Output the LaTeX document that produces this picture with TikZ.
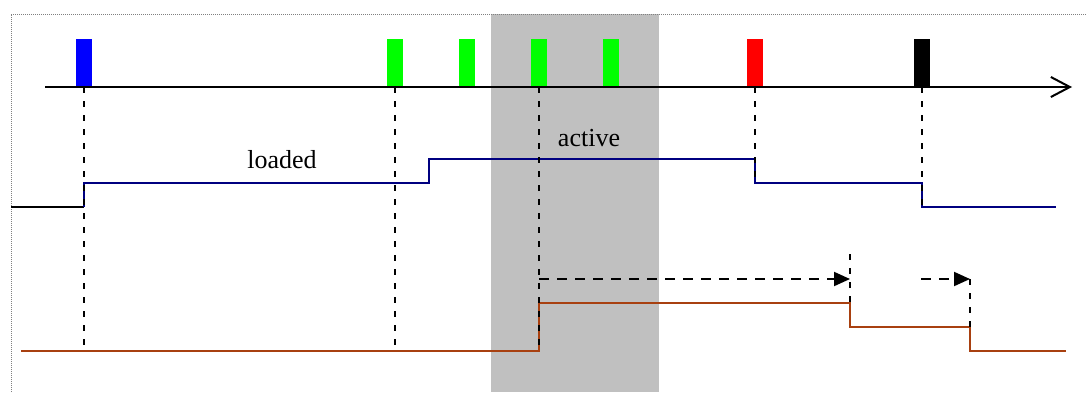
\documentclass[tikz,border=0pt]{standalone}
\usepackage{fontspec}
\setmainfont{Liberation Serif}
\usetikzlibrary{arrows.meta,positioning}
\definecolor{navyline}{RGB}{0,0,128}
\definecolor{rustline}{RGB}{168,64,16}
\definecolor{windowgray}{RGB}{192,192,192}
\tikzstyle{marker} = [minimum width=8pt, minimum height=24pt, inner sep=0pt, anchor=south]
\tikzstyle{guide} = [dash pattern=on 3pt off 4pt, line width=1pt]
\tikzstyle{delay} = [dash pattern=on 5pt off 4pt, line width=1pt, -{Triangle[length=8pt,width=7pt]}]
\tikzstyle{loadline} = [navyline, line width=0.8pt]
\tikzstyle{runline} = [rustline, line width=0.8pt]
\tikzstyle{label} = [anchor=base, font=\fontsize{13}{15}\selectfont]

\begin{document}
\begin{tikzpicture}[x=0.5pt, y=-0.5pt]
    \useasboundingbox (0,0) rectangle (1086,392);
    % active window and frame
    \fill[windowgray] (491,14) rectangle (659,392);
    \draw[gray, dash pattern=on 0.5pt off 0.5pt, line width=0.5pt] (11,392) -- (11,14) -- (1086,14);

    % events on the time axis
    \foreach \x/\c [count=\i] in {84/blue, 395/green, 467/green, 539/green, 611/green, 755/red, 922/black}
        \node[marker, fill=\c] (m\i) at (\x,87) {};
    \draw[line width=1pt, -{Straight Barb[length=9.5pt,width=10pt]}] (45,87) -- (1072,87);

    % traces
    \draw[line width=0.8pt] (11,207) -- (84,207);
    \draw[loadline] (84,207) -- (84,183) -- (429,183) -- (429,159) -- (755,159)
        -- (755,183) -- (922,183) -- (922,207) -- (1056,207);
    \draw[runline] (21,351) -- (539,351) -- (539,303) -- (850,303) -- (850,327)
        -- (970,327) -- (970,351) -- (1066,351);

    % guides
    \draw[guide] (m1.south) -- ++(0,258);
    \draw[guide] (m2.south) -- ++(0,258);
    \draw[guide] (m4.south) -- ++(0,264);
    \draw[guide] (m6.south) -- ++(0,96);
    \draw[guide] (m7.south) -- ++(0,120);
    \draw[guide] (850,254) -- (850,303);
    \draw[guide] (970,279) -- (970,327);

    % delays
    \draw[delay] (539,279) -- (850,279);
    \draw[delay] (921,279) -- (970,279);

    \node[label] (loaded) at (282,168) {loaded};
    \node[label] (active) at (589,146) {active};
\end{tikzpicture}
\end{document}
